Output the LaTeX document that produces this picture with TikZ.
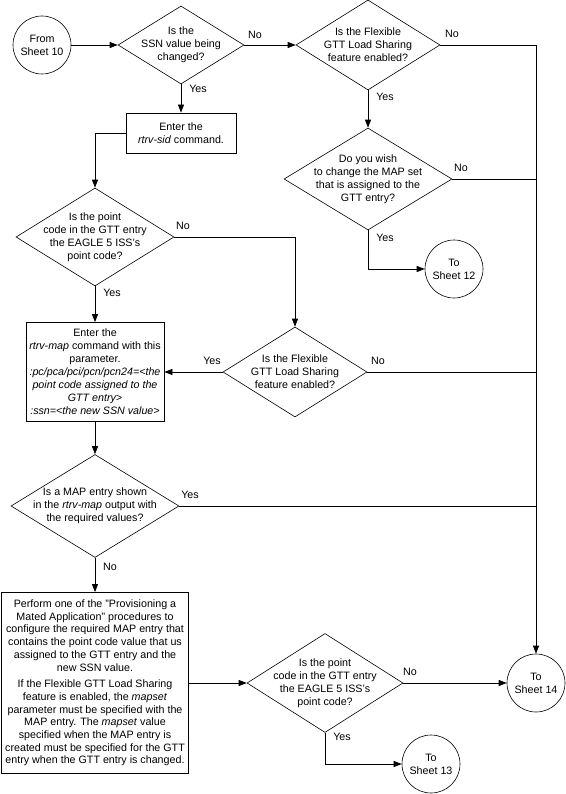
\documentclass[tikz,border=0pt]{standalone}
\usepackage{fontspec}
\setmainfont{Liberation Sans}
\usetikzlibrary{shapes.geometric, arrows.meta}

\newcommand{\chartfont}{\fontsize{10.7pt}{13pt}\selectfont}

\tikzset{
    every node/.style = {font = \chartfont},
    decision/.style = {diamond, draw, inner sep = 0pt, line width = .6pt},
    question/.style = {align = center, inner sep = 0pt},
    process/.style = {rectangle, draw, align = center, inner sep = 2pt, line width = .8pt},
    sheet/.style = {circle, draw, align = center, inner sep = 0pt, minimum size = 58pt, line width = .6pt},
    flow/.style = {-{Triangle[length = 8pt, width = 6pt]}, line width = .8pt},
    line/.style = {line width = .8pt}
}

\begin{document}
\begin{tikzpicture}[x = 1pt, y = -1pt]

    \useasboundingbox (0, 0) rectangle (565, 794);

    % off-page connectors
    \node [sheet] (from10) at (42, 45) {From\\Sheet 10};
    \node [sheet] (to12) at (454, 269) {To\\Sheet 12};
    \node [sheet] (to14) at (536, 683) {To\\Sheet 14};
    \node [sheet] (to13) at (431, 764) {To\\Sheet 13};

    % decisions
    \node [decision, minimum width = 126pt, minimum height = 78pt] (d1) at (181, 45) {};
    \node [question] (q1) at (d1) {Is the\\SSN value being\\changed?};

    \node [decision, minimum width = 144pt, minimum height = 90pt] (d2) at (368, 45) {};
    \node [question] (q2) at (d2) {Is the Flexible\\GTT Load Sharing\\feature enabled?};

    \node [decision, minimum width = 168pt, minimum height = 102pt] (d3) at (368, 179) {};
    \node [question] (q3) at (d3) {Do you wish\\to change the MAP set\\that is assigned to the\\GTT entry?};

    \node [decision, minimum width = 158pt, minimum height = 98pt] (d4) at (95, 237) {};
    \node [question] (q4) at (d4) {Is the point\\code in the GTT entry\\the EAGLE 5 ISS's\\point code?};

    \node [decision, minimum width = 144pt, minimum height = 90pt] (d5) at (295, 372) {};
    \node [question] (q5) at (d5) {Is the Flexible\\GTT Load Sharing\\feature enabled?};

    \node [decision, minimum width = 168pt, minimum height = 103pt] (d6) at (95, 506) {};
    \node [question] (q6) at (d6) {Is a MAP entry shown\\in the \textit{rtrv-map} output with\\the required values?};

    \node [decision, minimum width = 156pt, minimum height = 99pt] (d7) at (325, 683) {};
    \node [question] (q7) at (d7) {Is the point\\code in the GTT entry\\the EAGLE 5 ISS's\\point code?};

    % processes
    \node [process, minimum width = 110pt, minimum height = 40pt] (b1) at (181, 133)
        {Enter the\\\textit{rtrv-sid} command.};

    \node [process, minimum width = 138pt, minimum height = 99pt] (b2) at (95, 372)
        {Enter the\\\textit{rtrv-map} command with this\\parameter.\\
         \textit{:pc/pca/pci/pcn/pcn24=<the}\\\textit{point code assigned to the}\\
         \textit{GTT entry>}\\\textit{:ssn=<the new SSN value>}};

    \node [process, minimum width = 187pt, minimum height = 181pt, inner sep = 1pt,
           font = \fontsize{10.7pt}{12.7pt}\selectfont] (b3) at (95, 683)
        {Perform one of the "Provisioning a\\Mated Application" procedures to\\
         configure the required MAP entry that\\contains the point code value that us\\
         assigned to the GTT entry and the\\new SSN value.\\[4pt]
         If the Flexible GTT Load Sharing\\feature is enabled, the \textit{mapset}\\
         parameter must be specified with the\\MAP entry. The \textit{mapset} value\\
         specified when the MAP entry is\\created must be specified for the GTT\\
         entry when the GTT entry is changed.};

    % flow
    \draw [flow] (from10) -- (d1);
    \draw [flow] (d1) -- (d2);
    \draw [flow] (d1) -- (b1);
    \draw [flow] (d2.east) -| (to14.north);
    \draw [flow] (d2) -- (d3);
    \draw [line] (d3.east) -- (d3.east -| to14.north);
    \draw [flow] (d3.south) |- (to12.west);
    \draw [flow] (b1.west) -| (d4.north);
    \draw [flow] (d4.east) -| (d5.north);
    \draw [flow] (d4) -- (b2);
    \draw [flow] (d5) -- (b2);
    \draw [line] (d5.east) -- (d5.east -| to14.north);
    \draw [flow] (b2) -- (d6);
    \draw [line] (d6.east) -- (d6.east -| to14.north);
    \draw [flow] (d6) -- (b3);
    \draw [flow] (b3) -- (d7);
    \draw [flow] (d7) -- (to14);
    \draw [flow] (d7.south) |- (to13.west);

    % answers
    \foreach \name/\txt/\x/\y in {n1/No/255/35, y1/Yes/198/89, n2/No/452/34, y2/Yes/385/97,
                                  n3/No/461/168, y3/Yes/385/238, n4/No/183/226, y4/Yes/112/293,
                                  y5/Yes/212/361, n5/No/378/361, y6/Yes/190/495, n6/No/110/567,
                                  n7/No/410/672, y7/Yes/342/737}
        \node (\name) at (\x, \y) {\txt};

\end{tikzpicture}
\end{document}
